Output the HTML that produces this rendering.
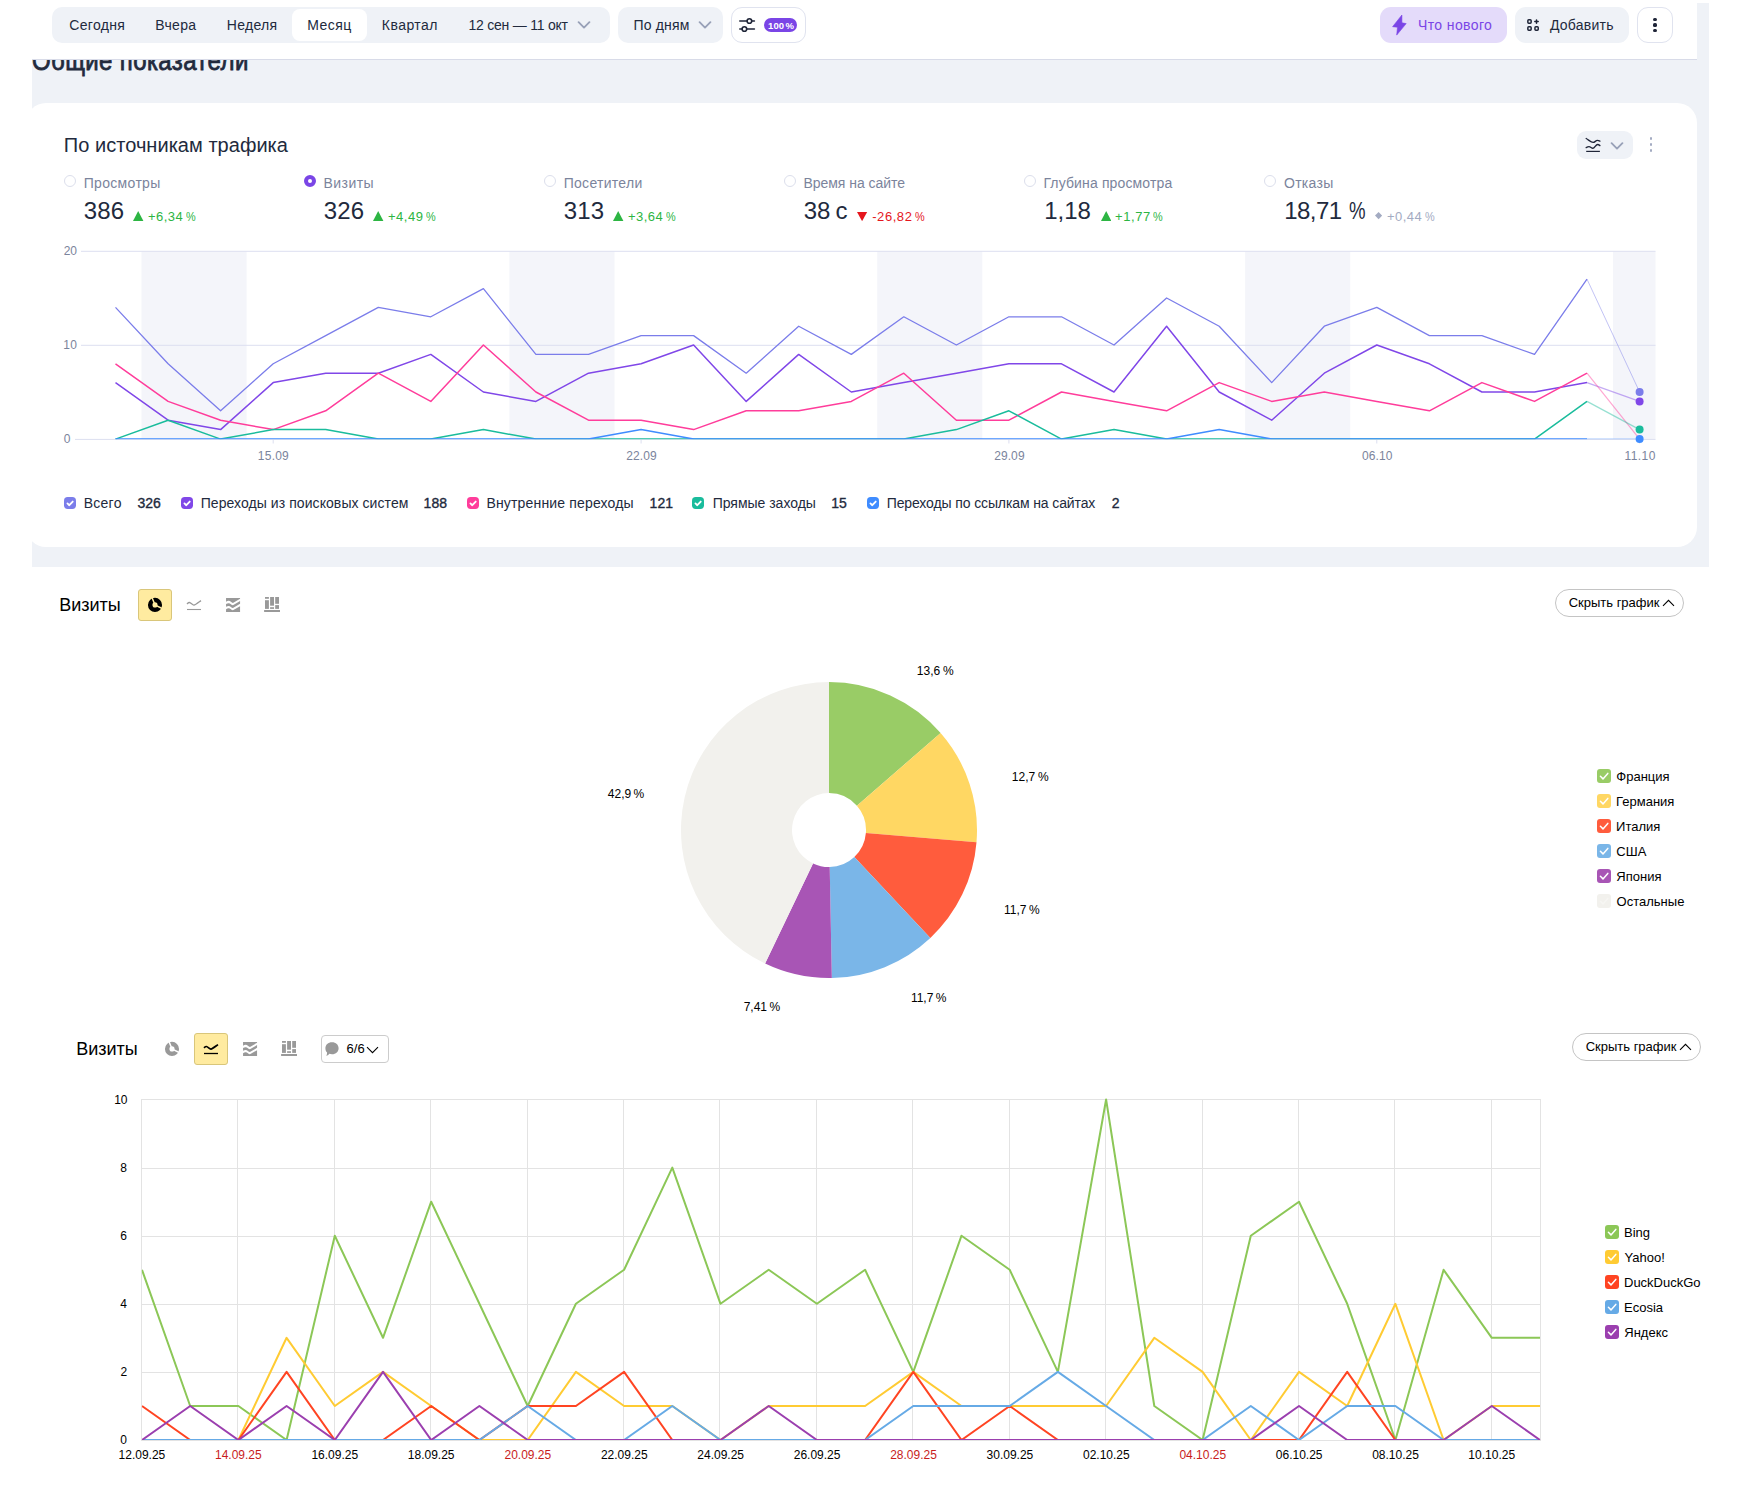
<!DOCTYPE html>
<html lang="ru"><head><meta charset="utf-8"><title>Метрика</title>
<style>
html,body{margin:0;padding:0;background:#fff}
body{position:relative;width:1739px;height:1488px;overflow:hidden;font-family:"Liberation Sans", sans-serif;}
span{display:block;position:absolute;line-height:1;white-space:pre}
</style></head>
<body>
<div style="position:absolute;left:32px;top:3px;width:1677px;height:564px;background:#eff2f7;overflow:hidden"><div style="position:absolute;left:-6px;top:100px;width:1671px;height:444px;background:#fff;border-radius:20px"></div></div>
<span style="left:31.95px;top:50.38px;font-size:24px;color:#222a3d;letter-spacing:0.387px;-webkit-text-stroke:0.7px #222a3d;transform-origin:0 20.3px;transform:scaleY(1.16);">Общие показатели</span>
<div style="position:absolute;left:0;top:0;width:1697px;height:60px;background:#fff"></div><div style="position:absolute;left:32px;top:59px;width:1665px;height:1px;background:#d8dbe8"></div>
<div style="position:absolute;left:52px;top:7px;width:558px;height:36px;background:#eff2f7;border-radius:10px"></div>
<div style="position:absolute;left:292px;top:9px;width:75px;height:32px;background:#fff;border-radius:8px"></div>
<span style="left:69.25px;top:18.15px;font-size:14px;color:#222a3d;letter-spacing:0.333px;">Сегодня</span>
<span style="left:155.35px;top:18.15px;font-size:14px;color:#222a3d;letter-spacing:0.287px;">Вчера</span>
<span style="left:226.75px;top:18.15px;font-size:14px;color:#222a3d;letter-spacing:0.300px;">Неделя</span>
<span style="left:307.35px;top:18.15px;font-size:14px;color:#222a3d;letter-spacing:0.412px;">Месяц</span>
<span style="left:381.75px;top:18.15px;font-size:14px;color:#222a3d;letter-spacing:0.475px;">Квартал</span>
<span style="left:468.40px;top:18.15px;font-size:14px;color:#222a3d;letter-spacing:-0.221px;">12 сен — 11 окт</span>
<svg style="position:absolute;left:577.0px;top:21.3px" width="14" height="8" viewBox="0 0 14 8"><path d="M1.6 1.2 L7 6.6 L12.4 1.2" fill="none" stroke="#98a1b8" stroke-width="1.85" stroke-linecap="round" stroke-linejoin="round"/></svg>
<div style="position:absolute;left:618px;top:7px;width:104.5px;height:36px;background:#eff2f7;border-radius:10px"></div>
<span style="left:633.50px;top:18.15px;font-size:14px;color:#222a3d;letter-spacing:0.167px;">По дням</span>
<svg style="position:absolute;left:697.9px;top:21.3px" width="14" height="8" viewBox="0 0 14 8"><path d="M1.6 1.2 L7 6.6 L12.4 1.2" fill="none" stroke="#98a1b8" stroke-width="1.85" stroke-linecap="round" stroke-linejoin="round"/></svg>
<div style="position:absolute;left:731px;top:7px;width:74.5px;height:36px;box-sizing:border-box;background:#fff;border:1px solid #e0e3ef;border-radius:11px"></div>
<svg style="position:absolute;left:737px;top:15px" width="20" height="20" viewBox="0 0 20 20"><g fill="none" stroke="#1f2538" stroke-width="1.6" stroke-linecap="round"><path d="M2.8 6 H9.8 M15 6 H17.4 M2.8 14 H5 M10 14 H17.4"/><circle cx="12.4" cy="6" r="2.3"/><circle cx="7.4" cy="14" r="2.3"/></g></svg>
<div style="position:absolute;left:764px;top:18px;width:33px;height:14px;background:#7a45e6;border-radius:7px"></div>
<span style="left:768.00px;top:20.66px;font-size:9.5px;color:#fff;font-weight:700;letter-spacing:0.095px;word-spacing:-1.330px;">100 %</span>
<div style="position:absolute;left:1380px;top:7px;width:127px;height:36px;background:#e4dbfa;border-radius:11px"></div>
<svg style="position:absolute;left:1390px;top:13px" width="20" height="24" viewBox="0 0 20 24"><path d="M11.9 2 L2.6 13.7 L7.5 14.2 L6.7 22.1 L16.2 10.6 L11.9 9.8 Z" fill="#7a45e6" stroke="#7a45e6" stroke-width="0.6" stroke-linejoin="round"/></svg>
<span style="left:1418.00px;top:18.15px;font-size:14px;color:#7a45e6;letter-spacing:0.383px;">Что нового</span>
<div style="position:absolute;left:1515px;top:7px;width:114px;height:36px;background:#eff2f7;border-radius:11px"></div>
<svg style="position:absolute;left:1525px;top:17px" width="16" height="16" viewBox="0 0 16 16"><g fill="none" stroke="#1f2538" stroke-width="1.5" stroke-linejoin="round" stroke-linecap="round"><rect x="2.85" y="2.75" width="3.3" height="3.4" rx="0.9"/><rect x="2.85" y="9.75" width="3.3" height="3.4" rx="0.9"/><rect x="9.95" y="9.75" width="3.3" height="3.4" rx="0.9"/><path d="M11.5 2.9 V6.3 M9.8 4.6 H13.2"/></g></svg>
<span style="left:1549.90px;top:18.15px;font-size:14px;color:#222a3d;letter-spacing:0.250px;">Добавить</span>
<div style="position:absolute;left:1637px;top:7px;width:36px;height:36px;box-sizing:border-box;background:#fff;border:1px solid #e0e3ef;border-radius:11px"></div>
<div style="position:absolute;left:1653.4px;top:17.9px;width:3.2px;height:3.2px;border-radius:50%;background:#1f2538"></div>
<div style="position:absolute;left:1653.4px;top:23.4px;width:3.2px;height:3.2px;border-radius:50%;background:#1f2538"></div>
<div style="position:absolute;left:1653.4px;top:28.9px;width:3.2px;height:3.2px;border-radius:50%;background:#1f2538"></div>
<span style="left:63.80px;top:134.97px;font-size:20px;color:#222a3d;letter-spacing:0.035px;">По источникам трафика</span>
<div style="position:absolute;left:1577px;top:131px;width:56px;height:28px;background:#eff2f7;border-radius:9px"></div>
<svg style="position:absolute;left:1584px;top:137px" width="18" height="18" viewBox="0 0 18 18"><g fill="none" stroke="#1f2538" stroke-width="1.4" stroke-linecap="round" stroke-linejoin="round"><path d="M2.2 1.5 C4.5 2.8 7 5.4 9.1 5.4 C10.8 5.4 11.8 3.4 13.3 3.4 C14.3 3.4 15.1 3.7 15.9 4.1"/><path d="M2.2 10.6 C3.2 10 4 9.6 5 9.6 C6.5 9.6 7.5 11.3 8.8 11.3 C10.6 11.3 11.8 7.5 13.6 7.5 C14.5 7.5 15.2 8 15.9 8.6"/><path d="M2.2 14.4 H15.9" stroke-width="1.2" stroke-linecap="butt"/></g></svg>
<svg style="position:absolute;left:1609.9px;top:141.7px" width="14" height="8" viewBox="0 0 14 8"><path d="M1.6 1.2 L7 6.6 L12.4 1.2" fill="none" stroke="#98a1b8" stroke-width="1.85" stroke-linecap="round" stroke-linejoin="round"/></svg>
<div style="position:absolute;left:1649.7px;top:137.4px;width:2.8px;height:2.8px;border-radius:50%;background:#a3abc2"></div>
<div style="position:absolute;left:1649.7px;top:143.4px;width:2.8px;height:2.8px;border-radius:50%;background:#a3abc2"></div>
<div style="position:absolute;left:1649.7px;top:149.4px;width:2.8px;height:2.8px;border-radius:50%;background:#a3abc2"></div>
<div style="position:absolute;left:64px;top:175px;width:12px;height:12px;box-sizing:border-box;border-radius:50%;border:1px solid #dcdfec;background:#fff"></div>
<span style="left:83.70px;top:176.15px;font-size:14px;color:#7b849c;letter-spacing:0.325px;">Просмотры</span>
<span style="left:83.70px;top:198.68px;font-size:24px;color:#222a3d;letter-spacing:0.150px;">386</span>
<svg style="position:absolute;left:133.40px;top:211.2px" width="10.4" height="10" viewBox="0 0 10.4 10"><path d="M5.2 0 L10.4 10 H0 Z" fill="#2db543"/></svg>
<span style="left:147.95px;top:210.00px;font-size:13px;color:#2db543;letter-spacing:0.462px;">+6,34</span>
<span style="left:185.88px;top:210.00px;font-size:13px;color:#2db543;transform-origin:0 0;transform:scaleX(0.838);">%</span>
<div style="position:absolute;left:304px;top:175px;width:12px;height:12px;box-sizing:border-box;border-radius:50%;border:4px solid #7a45e6;background:#fff"></div>
<span style="left:323.45px;top:176.15px;font-size:14px;color:#7b849c;letter-spacing:0.470px;">Визиты</span>
<span style="left:323.70px;top:198.68px;font-size:24px;color:#222a3d;letter-spacing:0.150px;">326</span>
<svg style="position:absolute;left:373.40px;top:211.2px" width="10.4" height="10" viewBox="0 0 10.4 10"><path d="M5.2 0 L10.4 10 H0 Z" fill="#2db543"/></svg>
<span style="left:387.95px;top:210.00px;font-size:13px;color:#2db543;letter-spacing:0.525px;">+4,49</span>
<span style="left:425.88px;top:210.00px;font-size:13px;color:#2db543;transform-origin:0 0;transform:scaleX(0.838);">%</span>
<div style="position:absolute;left:544px;top:175px;width:12px;height:12px;box-sizing:border-box;border-radius:50%;border:1px solid #dcdfec;background:#fff"></div>
<span style="left:563.70px;top:176.15px;font-size:14px;color:#7b849c;letter-spacing:0.289px;">Посетители</span>
<span style="left:563.70px;top:198.68px;font-size:24px;color:#222a3d;letter-spacing:0.150px;">313</span>
<svg style="position:absolute;left:613.40px;top:211.2px" width="10.4" height="10" viewBox="0 0 10.4 10"><path d="M5.2 0 L10.4 10 H0 Z" fill="#2db543"/></svg>
<span style="left:627.95px;top:210.00px;font-size:13px;color:#2db543;letter-spacing:0.462px;">+3,64</span>
<span style="left:665.88px;top:210.00px;font-size:13px;color:#2db543;transform-origin:0 0;transform:scaleX(0.838);">%</span>
<div style="position:absolute;left:784px;top:175px;width:12px;height:12px;box-sizing:border-box;border-radius:50%;border:1px solid #dcdfec;background:#fff"></div>
<span style="left:803.45px;top:176.15px;font-size:14px;color:#7b849c;letter-spacing:-0.035px;">Время на сайте</span>
<span style="left:803.70px;top:198.68px;font-size:24px;color:#222a3d;word-spacing:-1.450px;">38 с</span>
<svg style="position:absolute;left:857.40px;top:211.9px" width="10.2" height="9.2" viewBox="0 0 10.2 9.2"><path d="M0 0 H10.2 L5.1 9.2 Z" fill="#e5161d"/></svg>
<span style="left:872.20px;top:210.00px;font-size:13px;color:#e5161d;letter-spacing:0.570px;">-26,82</span>
<span style="left:914.88px;top:210.00px;font-size:13px;color:#e5161d;transform-origin:0 0;transform:scaleX(0.838);">%</span>
<div style="position:absolute;left:1024px;top:175px;width:12px;height:12px;box-sizing:border-box;border-radius:50%;border:1px solid #dcdfec;background:#fff"></div>
<span style="left:1043.45px;top:176.15px;font-size:14px;color:#7b849c;letter-spacing:0.134px;">Глубина просмотра</span>
<span style="left:1044.15px;top:198.68px;font-size:24px;color:#222a3d;">1,18</span>
<svg style="position:absolute;left:1100.90px;top:211.2px" width="10.4" height="10" viewBox="0 0 10.4 10"><path d="M5.2 0 L10.4 10 H0 Z" fill="#2db543"/></svg>
<span style="left:1115.05px;top:210.00px;font-size:13px;color:#2db543;letter-spacing:0.575px;">+1,77</span>
<span style="left:1153.18px;top:210.00px;font-size:13px;color:#2db543;transform-origin:0 0;transform:scaleX(0.838);">%</span>
<div style="position:absolute;left:1264px;top:175px;width:12px;height:12px;box-sizing:border-box;border-radius:50%;border:1px solid #dcdfec;background:#fff"></div>
<span style="left:1283.95px;top:176.15px;font-size:14px;color:#7b849c;letter-spacing:0.310px;">Отказы</span>
<span style="left:1284.15px;top:198.68px;font-size:24px;color:#222a3d;letter-spacing:-0.500px;">18,71</span>
<span style="left:1348.52px;top:198.68px;font-size:24px;color:#222a3d;transform-origin:0 0;transform:scaleX(0.775);">%</span>
<svg style="position:absolute;left:1375.10px;top:212.4px" width="7.2" height="7.2" viewBox="0 0 7.2 7.2"><path d="M3.6 0 L7.2 3.6 L3.6 7.2 L0 3.6 Z" fill="#a3abc2"/></svg>
<span style="left:1387.05px;top:210.00px;font-size:13px;color:#a3abc2;letter-spacing:0.462px;">+0,44</span>
<span style="left:1424.98px;top:210.00px;font-size:13px;color:#a3abc2;transform-origin:0 0;transform:scaleX(0.838);">%</span>
<svg style="position:absolute;left:0;top:0" width="1739" height="600" viewBox="0 0 1739 600"><rect x="141.5" y="251.3" width="105.1" height="188.1" fill="#f4f5fa"/><rect x="509.4" y="251.3" width="105.1" height="188.1" fill="#f4f5fa"/><rect x="877.2" y="251.3" width="105.1" height="188.1" fill="#f4f5fa"/><rect x="1245.1" y="251.3" width="105.1" height="188.1" fill="#f4f5fa"/><rect x="1613.0" y="251.3" width="42.5" height="188.1" fill="#f4f5fa"/><line x1="81" x2="1655.5" y1="251.3" y2="251.3" stroke="#dcdff0" stroke-width="1"/><line x1="81" x2="1655.5" y1="345.3" y2="345.3" stroke="#dcdff0" stroke-width="1"/><line x1="75" x2="1655.5" y1="439.4" y2="439.4" stroke="#dcdff0" stroke-width="1"/><line x1="273.2" x2="273.2" y1="439.4" y2="443.5" stroke="#dcdff0" stroke-width="1"/><line x1="641.1" x2="641.1" y1="439.4" y2="443.5" stroke="#dcdff0" stroke-width="1"/><line x1="1008.9" x2="1008.9" y1="439.4" y2="443.5" stroke="#dcdff0" stroke-width="1"/><line x1="1376.8" x2="1376.8" y1="439.4" y2="443.5" stroke="#dcdff0" stroke-width="1"/><line x1="1639.6" x2="1639.6" y1="439.4" y2="443.5" stroke="#dcdff0" stroke-width="1"/><clipPath id="tc"><rect x="0" y="240" width="1739" height="199.35"/></clipPath><g clip-path="url(#tc)"><polyline points="115.5,307.4 168.1,363.8 220.6,410.8 273.2,363.8 325.7,335.6 378.3,307.4 430.8,316.8 483.4,288.6 535.9,354.4 588.5,354.4 641.1,335.6 693.6,335.6 746.2,373.2 798.7,326.2 851.3,354.4 903.8,316.8 956.4,345.0 1008.9,316.8 1061.5,316.8 1114.0,345.0 1166.6,298.0 1219.2,326.2 1271.7,382.6 1324.3,326.2 1376.8,307.4 1429.4,335.6 1481.9,335.6 1534.5,354.4 1587.0,279.2" fill="none" stroke="#7b7dea" stroke-width="1.3" stroke-linejoin="round"/><line x1="1587.0" y1="279.2" x2="1639.6" y2="392.0" stroke="#7b7dea" stroke-width="1.00" opacity="0.45"/><polyline points="115.5,382.6 168.1,420.2 220.6,429.6 273.2,382.6 325.7,373.2 378.3,373.2 430.8,354.4 483.4,392.0 535.9,401.4 588.5,373.2 641.1,363.8 693.6,345.0 746.2,401.4 798.7,354.4 851.3,392.0 903.8,382.6 956.4,373.2 1008.9,363.8 1061.5,363.8 1114.0,392.0 1166.6,326.2 1219.2,392.0 1271.7,420.2 1324.3,373.2 1376.8,345.0 1429.4,363.8 1481.9,392.0 1534.5,392.0 1587.0,382.6" fill="none" stroke="#8047e8" stroke-width="1.5" stroke-linejoin="round"/><line x1="1587.0" y1="382.6" x2="1639.6" y2="401.4" stroke="#8047e8" stroke-width="1.20" opacity="0.45"/><polyline points="115.5,363.8 168.1,401.4 220.6,420.2 273.2,429.6 325.7,410.8 378.3,373.2 430.8,401.4 483.4,345.0 535.9,392.0 588.5,420.2 641.1,420.2 693.6,429.6 746.2,410.8 798.7,410.8 851.3,401.4 903.8,373.2 956.4,420.2 1008.9,420.2 1061.5,392.0 1114.0,401.4 1166.6,410.8 1219.2,382.6 1271.7,401.4 1324.3,392.0 1376.8,401.4 1429.4,410.8 1481.9,382.6 1534.5,401.4 1587.0,373.2" fill="none" stroke="#ff3d9b" stroke-width="1.5" stroke-linejoin="round"/><line x1="1587.0" y1="373.2" x2="1639.6" y2="439.1" stroke="#ff3d9b" stroke-width="1.20" opacity="0.45"/><polyline points="115.5,439.1 168.1,420.2 220.6,439.1 273.2,429.6 325.7,429.6 378.3,439.1 430.8,439.1 483.4,429.6 535.9,439.1 588.5,439.1 641.1,439.1 693.6,439.1 746.2,439.1 798.7,439.1 851.3,439.1 903.8,439.1 956.4,429.6 1008.9,410.8 1061.5,439.1 1114.0,429.6 1166.6,439.1 1219.2,439.1 1271.7,439.1 1324.3,439.1 1376.8,439.1 1429.4,439.1 1481.9,439.1 1534.5,439.1 1587.0,401.4" fill="none" stroke="#1abc9c" stroke-width="1.5" stroke-linejoin="round"/><line x1="1587.0" y1="401.4" x2="1639.6" y2="429.6" stroke="#1abc9c" stroke-width="1.20" opacity="0.45"/><polyline points="115.5,439.1 168.1,439.1 220.6,439.1 273.2,439.1 325.7,439.1 378.3,439.1 430.8,439.1 483.4,439.1 535.9,439.1 588.5,439.1 641.1,429.6 693.6,439.1 746.2,439.1 798.7,439.1 851.3,439.1 903.8,439.1 956.4,439.1 1008.9,439.1 1061.5,439.1 1114.0,439.1 1166.6,439.1 1219.2,429.6 1271.7,439.1 1324.3,439.1 1376.8,439.1 1429.4,439.1 1481.9,439.1 1534.5,439.1 1587.0,439.1" fill="none" stroke="#3f8cff" stroke-width="1.5" stroke-linejoin="round"/><line x1="1587.0" y1="439.1" x2="1639.6" y2="439.1" stroke="#3f8cff" stroke-width="1.20" opacity="0.45"/></g><circle cx="1639.6" cy="392.0" r="4" fill="#7b7dea"/><circle cx="1639.6" cy="401.4" r="4" fill="#8047e8"/><circle cx="1639.6" cy="429.6" r="4" fill="#1abc9c"/><circle cx="1639.6" cy="439.1" r="4" fill="#3f8cff"/></svg>
<span style="left:63.80px;top:245.34px;font-size:12px;color:#7b849c;letter-spacing:-0.200px;">20</span>
<span style="left:63.30px;top:339.34px;font-size:12px;color:#7b849c;letter-spacing:0.300px;">10</span>
<span style="left:63.80px;top:433.44px;font-size:12px;color:#7b849c;">0</span>
<span style="left:257.87px;top:449.54px;font-size:12px;color:#7b849c;letter-spacing:0.225px;">15.09</span>
<span style="left:626.25px;top:449.54px;font-size:12px;color:#7b849c;letter-spacing:0.100px;">22.09</span>
<span style="left:994.14px;top:449.54px;font-size:12px;color:#7b849c;letter-spacing:0.100px;">29.09</span>
<span style="left:1362.02px;top:449.54px;font-size:12px;color:#7b849c;letter-spacing:0.100px;">06.10</span>
<span style="left:1624.40px;top:449.54px;font-size:12px;color:#7b849c;letter-spacing:0.463px;">11.10</span>
<svg style="position:absolute;left:64px;top:497.3px" width="12" height="12" viewBox="0 0 14 14"><rect width="14" height="14" rx="4.3" fill="#7b7dea"/><path d="M4 7.5 L6.2 9.6 L10.2 5.3" fill="none" stroke="#fff" stroke-width="2.1" stroke-linecap="round" stroke-linejoin="round" opacity="1"/></svg>
<span style="left:83.75px;top:495.85px;font-size:14px;color:#222a3d;letter-spacing:0.250px;">Всего</span>
<span style="left:137.40px;top:495.85px;font-size:14px;color:#222a3d;-webkit-text-stroke:0.35px #222a3d;">326</span>
<svg style="position:absolute;left:180.7px;top:497.3px" width="12" height="12" viewBox="0 0 14 14"><rect width="14" height="14" rx="4.3" fill="#8047e8"/><path d="M4 7.5 L6.2 9.6 L10.2 5.3" fill="none" stroke="#fff" stroke-width="2.1" stroke-linecap="round" stroke-linejoin="round" opacity="1"/></svg>
<span style="left:200.70px;top:495.85px;font-size:14px;color:#222a3d;letter-spacing:0.069px;">Переходы из поисковых систем</span>
<span style="left:423.60px;top:495.85px;font-size:14px;color:#222a3d;-webkit-text-stroke:0.35px #222a3d;">188</span>
<svg style="position:absolute;left:466.7px;top:497.3px" width="12" height="12" viewBox="0 0 14 14"><rect width="14" height="14" rx="4.3" fill="#ff3d9b"/><path d="M4 7.5 L6.2 9.6 L10.2 5.3" fill="none" stroke="#fff" stroke-width="2.1" stroke-linecap="round" stroke-linejoin="round" opacity="1"/></svg>
<span style="left:486.45px;top:495.85px;font-size:14px;color:#222a3d;letter-spacing:0.167px;">Внутренние переходы</span>
<span style="left:649.60px;top:495.85px;font-size:14px;color:#222a3d;-webkit-text-stroke:0.35px #222a3d;">121</span>
<svg style="position:absolute;left:692px;top:497.3px" width="12" height="12" viewBox="0 0 14 14"><rect width="14" height="14" rx="4.3" fill="#1abc9c"/><path d="M4 7.5 L6.2 9.6 L10.2 5.3" fill="none" stroke="#fff" stroke-width="2.1" stroke-linecap="round" stroke-linejoin="round" opacity="1"/></svg>
<span style="left:712.70px;top:495.85px;font-size:14px;color:#222a3d;letter-spacing:-0.017px;">Прямые заходы</span>
<span style="left:831.30px;top:495.85px;font-size:14px;color:#222a3d;-webkit-text-stroke:0.35px #222a3d;">15</span>
<svg style="position:absolute;left:866.7px;top:497.3px" width="12" height="12" viewBox="0 0 14 14"><rect width="14" height="14" rx="4.3" fill="#3f8cff"/><path d="M4 7.5 L6.2 9.6 L10.2 5.3" fill="none" stroke="#fff" stroke-width="2.1" stroke-linecap="round" stroke-linejoin="round" opacity="1"/></svg>
<span style="left:886.70px;top:495.85px;font-size:14px;color:#222a3d;letter-spacing:-0.114px;">Переходы по ссылкам на сайтах</span>
<span style="left:1111.80px;top:495.85px;font-size:14px;color:#222a3d;-webkit-text-stroke:0.35px #222a3d;">2</span>
<span style="left:59.20px;top:595.56px;font-size:18px;color:#000;">Визиты</span>
<div style="position:absolute;left:138.3px;top:589.1px;width:33.6px;height:31.7px;box-sizing:border-box;background:#ffeba0;border:1px solid #d9c67a;border-radius:3px"></div>
<svg style="position:absolute;left:147px;top:597px" width="16" height="16" viewBox="0 0 16 16"><circle cx="8" cy="7.9" r="4.8" fill="none" stroke="#000" stroke-width="4.5"/><g stroke="#ffeba0" stroke-width="1.5"><path d="M7.44 6.51 L5.00 0.48"/><path d="M9.34 8.58 L15.13 11.53"/></g></svg>
<svg style="position:absolute;left:186px;top:597px" width="16" height="16" viewBox="0 0 16 16"><g fill="none" stroke="#999"><path d="M1 6.9 C2 6 2.6 5.4 3.4 5.5 C4.8 5.7 6.4 7.9 7.9 8.2 C9.4 7.9 13 5 15 3.6" stroke-width="1.3"/><path d="M1 12.5 H15" stroke-width="1.1"/></g></svg>
<svg style="position:absolute;left:225px;top:597px" width="16" height="16" viewBox="0 0 16 16"><g fill="#999"><path d="M1.04 1.02 H15.07 V1.8 L7.94 5.94 C6.6 5.69 5.2 3.99 3.8 3.87 C3 3.79 2 4.09 1.04 4.79 Z"/><path d="M1.04 7.09 C2 6.39 3 6.09 3.8 6.17 C5.2 6.29 6.6 7.99 7.94 8.24 L15.07 4.10 V6.86 L7.94 11.00 C6.6 10.75 5.2 9.05 3.8 8.93 C3 8.85 2 9.15 1.04 9.85 Z"/><path d="M1.04 12.15 C2 11.45 3 11.15 3.8 11.23 C5.2 11.35 6.6 13.05 7.94 13.30 L15.07 9.16 V14.91 H1.04 Z"/></g></svg>
<svg style="position:absolute;left:264px;top:597px" width="16" height="16" viewBox="0 0 16 16"><g fill="#999"><rect x="1" y="0" width="3.9" height="1.8"/><rect x="1" y="3.2" width="3.9" height="8.7"/><rect x="6.1" y="0" width="3.9" height="8.7"/><rect x="6.1" y="10.2" width="3.9" height="1.7"/><rect x="11.2" y="0" width="3.8" height="6.8"/><rect x="11.2" y="8.1" width="3.8" height="3.8"/><rect x="0.1" y="13" width="15.9" height="2"/></g></svg>
<div style="position:absolute;left:1555px;top:589.3px;width:128.6px;height:27.5px;box-sizing:border-box;background:#fff;border:1px solid #c4c4c4;border-radius:14px"></div>
<span style="left:1568.65px;top:596.20px;font-size:13px;color:#000;">Скрыть график</span>
<svg style="position:absolute;left:1661.9px;top:599px" width="13" height="8" viewBox="0 0 13 8"><path d="M1 6.8 L6.5 1.3 L12 6.8" fill="none" stroke="#000" stroke-width="1.1"/></svg>
<svg style="position:absolute;left:0;top:0" width="1739" height="1488" viewBox="0 0 1739 1488"><path d="M829.00,682.10 A148.0,148.0 0 0 1 940.62,732.92 L856.91,805.80 A37.0,37.0 0 0 0 829.00,793.10 Z" fill="#99cc66"/><path d="M940.62,732.92 A148.0,148.0 0 0 1 976.51,842.15 L865.88,833.11 A37.0,37.0 0 0 0 856.91,805.80 Z" fill="#ffd763"/><path d="M976.51,842.15 A148.0,148.0 0 0 1 930.34,937.96 L854.33,857.07 A37.0,37.0 0 0 0 865.88,833.11 Z" fill="#ff5c3d"/><path d="M930.34,937.96 A148.0,148.0 0 0 1 831.84,978.07 L829.71,867.09 A37.0,37.0 0 0 0 854.33,857.07 Z" fill="#7ab6e8"/><path d="M831.84,978.07 A148.0,148.0 0 0 1 765.11,963.60 L813.03,863.47 A37.0,37.0 0 0 0 829.71,867.09 Z" fill="#a855b5"/><path d="M765.11,963.60 A148.0,148.0 0 0 1 829.00,682.10 L829.00,793.10 A37.0,37.0 0 0 0 813.03,863.47 Z" fill="#f2f1ed"/></svg>
<span style="left:916.80px;top:664.94px;font-size:12px;color:#000;word-spacing:-0.600px;">13,6 %</span>
<span style="left:1011.80px;top:771.14px;font-size:12px;color:#000;word-spacing:-0.600px;">12,7 %</span>
<span style="left:1004.00px;top:904.34px;font-size:12px;color:#000;word-spacing:-0.800px;">11,7 %</span>
<span style="left:910.90px;top:992.24px;font-size:12px;color:#000;word-spacing:-0.900px;">11,7 %</span>
<span style="left:743.70px;top:1001.24px;font-size:12px;color:#000;word-spacing:-0.800px;">7,41 %</span>
<span style="left:607.85px;top:788.24px;font-size:12px;color:#000;word-spacing:-0.950px;">42,9 %</span>
<svg style="position:absolute;left:1597px;top:769px" width="14" height="14" viewBox="0 0 14 14"><rect width="14" height="14" rx="3" fill="#99cc66"/><path d="M3.4 7.3 L6 9.9 L10.8 4.4" fill="none" stroke="#fff" stroke-width="1.5" stroke-linecap="round" stroke-linejoin="round" opacity="1"/></svg>
<span style="left:1616.35px;top:769.80px;font-size:13px;color:#000;">Франция</span>
<svg style="position:absolute;left:1597px;top:794px" width="14" height="14" viewBox="0 0 14 14"><rect width="14" height="14" rx="3" fill="#ffd763"/><path d="M3.4 7.3 L6 9.9 L10.8 4.4" fill="none" stroke="#fff" stroke-width="1.5" stroke-linecap="round" stroke-linejoin="round" opacity="1"/></svg>
<span style="left:1616.10px;top:794.80px;font-size:13px;color:#000;">Германия</span>
<svg style="position:absolute;left:1597px;top:819px" width="14" height="14" viewBox="0 0 14 14"><rect width="14" height="14" rx="3" fill="#ff5c3d"/><path d="M3.4 7.3 L6 9.9 L10.8 4.4" fill="none" stroke="#fff" stroke-width="1.5" stroke-linecap="round" stroke-linejoin="round" opacity="1"/></svg>
<span style="left:1616.10px;top:819.80px;font-size:13px;color:#000;">Италия</span>
<svg style="position:absolute;left:1597px;top:844px" width="14" height="14" viewBox="0 0 14 14"><rect width="14" height="14" rx="3" fill="#7ab6e8"/><path d="M3.4 7.3 L6 9.9 L10.8 4.4" fill="none" stroke="#fff" stroke-width="1.5" stroke-linecap="round" stroke-linejoin="round" opacity="1"/></svg>
<span style="left:1616.35px;top:844.80px;font-size:13px;color:#000;">США</span>
<svg style="position:absolute;left:1597px;top:869px" width="14" height="14" viewBox="0 0 14 14"><rect width="14" height="14" rx="3" fill="#a855b5"/><path d="M3.4 7.3 L6 9.9 L10.8 4.4" fill="none" stroke="#fff" stroke-width="1.5" stroke-linecap="round" stroke-linejoin="round" opacity="1"/></svg>
<span style="left:1616.35px;top:869.80px;font-size:13px;color:#000;">Япония</span>
<svg style="position:absolute;left:1597px;top:894px" width="14" height="14" viewBox="0 0 14 14"><rect width="14" height="14" rx="3" fill="#f2f1ed"/><path d="M3.4 7.3 L6 9.9 L10.8 4.4" fill="none" stroke="#fff" stroke-width="1.5" stroke-linecap="round" stroke-linejoin="round" opacity="0.35"/></svg>
<span style="left:1616.60px;top:894.80px;font-size:13px;color:#000;">Остальные</span>
<span style="left:76.20px;top:1039.56px;font-size:18px;color:#000;">Визиты</span>
<div style="position:absolute;left:194.3px;top:1033.1px;width:33.6px;height:31.7px;box-sizing:border-box;background:#ffeba0;border:1px solid #d9c67a;border-radius:3px"></div>
<svg style="position:absolute;left:164px;top:1041px" width="16" height="16" viewBox="0 0 16 16"><circle cx="8" cy="7.9" r="4.8" fill="none" stroke="#999" stroke-width="4.5"/><g stroke="#fff" stroke-width="1.5"><path d="M7.44 6.51 L5.00 0.48"/><path d="M9.34 8.58 L15.13 11.53"/></g></svg>
<svg style="position:absolute;left:203px;top:1041px" width="16" height="16" viewBox="0 0 16 16"><g fill="none" stroke="#000"><path d="M1 6.9 C2 6 2.6 5.4 3.4 5.5 C4.8 5.7 6.4 7.9 7.9 8.2 C9.4 7.9 13 5 15 3.6" stroke-width="1.7"/><path d="M1 12.5 H15" stroke-width="1.3"/></g></svg>
<svg style="position:absolute;left:242px;top:1041px" width="16" height="16" viewBox="0 0 16 16"><g fill="#999"><path d="M1.04 1.02 H15.07 V1.8 L7.94 5.94 C6.6 5.69 5.2 3.99 3.8 3.87 C3 3.79 2 4.09 1.04 4.79 Z"/><path d="M1.04 7.09 C2 6.39 3 6.09 3.8 6.17 C5.2 6.29 6.6 7.99 7.94 8.24 L15.07 4.10 V6.86 L7.94 11.00 C6.6 10.75 5.2 9.05 3.8 8.93 C3 8.85 2 9.15 1.04 9.85 Z"/><path d="M1.04 12.15 C2 11.45 3 11.15 3.8 11.23 C5.2 11.35 6.6 13.05 7.94 13.30 L15.07 9.16 V14.91 H1.04 Z"/></g></svg>
<svg style="position:absolute;left:281px;top:1041px" width="16" height="16" viewBox="0 0 16 16"><g fill="#999"><rect x="1" y="0" width="3.9" height="1.8"/><rect x="1" y="3.2" width="3.9" height="8.7"/><rect x="6.1" y="0" width="3.9" height="8.7"/><rect x="6.1" y="10.2" width="3.9" height="1.7"/><rect x="11.2" y="0" width="3.8" height="6.8"/><rect x="11.2" y="8.1" width="3.8" height="3.8"/><rect x="0.1" y="13" width="15.9" height="2"/></g></svg>
<div style="position:absolute;left:1572px;top:1033.3px;width:128.6px;height:27.5px;box-sizing:border-box;background:#fff;border:1px solid #c4c4c4;border-radius:14px"></div>
<span style="left:1585.65px;top:1040.20px;font-size:13px;color:#000;">Скрыть график</span>
<svg style="position:absolute;left:1678.9px;top:1043px" width="13" height="8" viewBox="0 0 13 8"><path d="M1 6.8 L6.5 1.3 L12 6.8" fill="none" stroke="#000" stroke-width="1.1"/></svg>
<div style="position:absolute;left:321px;top:1035.2px;width:67.5px;height:27.5px;box-sizing:border-box;background:#fff;border:1px solid #ccc;border-radius:4px"></div>
<svg style="position:absolute;left:324.1px;top:1041px" width="16" height="16" viewBox="0 0 16 16"><path d="M8 1.2 C11.9 1.2 14.6 3.8 14.6 7.2 C14.6 10.6 11.9 13.2 8 13.2 C7 13.2 6.1 13 5.3 12.7 C4.6 13.8 3.4 14.6 2.2 14.8 C2.9 13.9 3.2 12.8 3.1 11.6 C2 10.5 1.4 8.9 1.4 7.2 C1.4 3.8 4.1 1.2 8 1.2 Z" fill="#999"/></svg>
<span style="left:346.55px;top:1042.20px;font-size:13px;color:#000;">6/6</span>
<svg style="position:absolute;left:366.3px;top:1045.5px" width="13" height="8" viewBox="0 0 13 8"><path d="M1 1.2 L6.5 6.7 L12 1.2" fill="none" stroke="#000" stroke-width="1.1"/></svg>
<svg style="position:absolute;left:0;top:0" width="1739" height="1488" viewBox="0 0 1739 1488"><line x1="141" x2="1541" y1="1099.5" y2="1099.5" stroke="#e3e3e3" stroke-width="1"/><line x1="141" x2="1541" y1="1168.5" y2="1168.5" stroke="#e3e3e3" stroke-width="1"/><line x1="141" x2="1541" y1="1236.5" y2="1236.5" stroke="#e3e3e3" stroke-width="1"/><line x1="141" x2="1541" y1="1304.5" y2="1304.5" stroke="#e3e3e3" stroke-width="1"/><line x1="141" x2="1541" y1="1372.5" y2="1372.5" stroke="#e3e3e3" stroke-width="1"/><line x1="141" x2="1541" y1="1440.5" y2="1440.5" stroke="#e3e3e3" stroke-width="1"/><line x1="141.5" x2="141.5" y1="1099" y2="1441" stroke="#e3e3e3" stroke-width="1"/><line x1="237.5" x2="237.5" y1="1099" y2="1441" stroke="#e3e3e3" stroke-width="1"/><line x1="334.5" x2="334.5" y1="1099" y2="1441" stroke="#e3e3e3" stroke-width="1"/><line x1="430.5" x2="430.5" y1="1099" y2="1441" stroke="#e3e3e3" stroke-width="1"/><line x1="527.5" x2="527.5" y1="1099" y2="1441" stroke="#e3e3e3" stroke-width="1"/><line x1="623.5" x2="623.5" y1="1099" y2="1441" stroke="#e3e3e3" stroke-width="1"/><line x1="719.5" x2="719.5" y1="1099" y2="1441" stroke="#e3e3e3" stroke-width="1"/><line x1="816.5" x2="816.5" y1="1099" y2="1441" stroke="#e3e3e3" stroke-width="1"/><line x1="912.5" x2="912.5" y1="1099" y2="1441" stroke="#e3e3e3" stroke-width="1"/><line x1="1009.5" x2="1009.5" y1="1099" y2="1441" stroke="#e3e3e3" stroke-width="1"/><line x1="1105.5" x2="1105.5" y1="1099" y2="1441" stroke="#e3e3e3" stroke-width="1"/><line x1="1202.5" x2="1202.5" y1="1099" y2="1441" stroke="#e3e3e3" stroke-width="1"/><line x1="1298.5" x2="1298.5" y1="1099" y2="1441" stroke="#e3e3e3" stroke-width="1"/><line x1="1394.5" x2="1394.5" y1="1099" y2="1441" stroke="#e3e3e3" stroke-width="1"/><line x1="1491.5" x2="1491.5" y1="1099" y2="1441" stroke="#e3e3e3" stroke-width="1"/><line x1="1540.5" x2="1540.5" y1="1099" y2="1441" stroke="#e3e3e3" stroke-width="1"/><clipPath id="lc"><rect x="141.8" y="1098" width="1398.6" height="342.1"/></clipPath><g clip-path="url(#lc)"><polyline points="142.0,1269.8 190.2,1406.0 238.4,1406.0 286.6,1440.0 334.8,1235.7 383.0,1337.8 431.2,1201.7 479.4,1303.8 527.7,1406.0 575.9,1303.8 624.1,1269.8 672.3,1167.6 720.5,1303.8 768.7,1269.8 816.9,1303.8 865.1,1269.8 913.3,1371.9 961.5,1235.7 1009.7,1269.8 1057.9,1371.9 1106.1,1099.5 1154.3,1406.0 1202.6,1440.0 1250.8,1235.7 1299.0,1201.7 1347.2,1303.8 1395.4,1440.0 1443.6,1269.8 1491.8,1337.8 1540.0,1337.8" fill="none" stroke="#8cc757" stroke-width="2" stroke-linejoin="round"/><polyline points="142.0,1440.0 190.2,1440.0 238.4,1440.0 286.6,1337.8 334.8,1406.0 383.0,1371.9 431.2,1406.0 479.4,1440.0 527.7,1440.0 575.9,1371.9 624.1,1406.0 672.3,1406.0 720.5,1440.0 768.7,1406.0 816.9,1406.0 865.1,1406.0 913.3,1371.9 961.5,1406.0 1009.7,1406.0 1057.9,1406.0 1106.1,1406.0 1154.3,1337.8 1202.6,1371.9 1250.8,1440.0 1299.0,1371.9 1347.2,1406.0 1395.4,1303.8 1443.6,1440.0 1491.8,1406.0 1540.0,1406.0" fill="none" stroke="#ffcb33" stroke-width="2" stroke-linejoin="round"/><polyline points="142.0,1406.0 190.2,1440.0 238.4,1440.0 286.6,1371.9 334.8,1440.0 383.0,1440.0 431.2,1406.0 479.4,1440.0 527.7,1406.0 575.9,1406.0 624.1,1371.9 672.3,1440.0 720.5,1440.0 768.7,1440.0 816.9,1440.0 865.1,1440.0 913.3,1371.9 961.5,1440.0 1009.7,1406.0 1057.9,1440.0 1106.1,1440.0 1154.3,1440.0 1202.6,1440.0 1250.8,1440.0 1299.0,1440.0 1347.2,1371.9 1395.4,1440.0 1443.6,1440.0 1491.8,1440.0 1540.0,1440.0" fill="none" stroke="#ff4422" stroke-width="2" stroke-linejoin="round"/><polyline points="142.0,1440.0 190.2,1440.0 238.4,1440.0 286.6,1440.0 334.8,1440.0 383.0,1440.0 431.2,1440.0 479.4,1440.0 527.7,1406.0 575.9,1440.0 624.1,1440.0 672.3,1406.0 720.5,1440.0 768.7,1440.0 816.9,1440.0 865.1,1440.0 913.3,1406.0 961.5,1406.0 1009.7,1406.0 1057.9,1371.9 1106.1,1406.0 1154.3,1440.0 1202.6,1440.0 1250.8,1406.0 1299.0,1440.0 1347.2,1406.0 1395.4,1406.0 1443.6,1440.0 1491.8,1440.0 1540.0,1440.0" fill="none" stroke="#66aae6" stroke-width="2" stroke-linejoin="round"/><polyline points="142.0,1440.0 190.2,1406.0 238.4,1440.0 286.6,1406.0 334.8,1440.0 383.0,1371.9 431.2,1440.0 479.4,1406.0 527.7,1440.0 575.9,1440.0 624.1,1440.0 672.3,1440.0 720.5,1440.0 768.7,1406.0 816.9,1440.0 865.1,1440.0 913.3,1440.0 961.5,1440.0 1009.7,1440.0 1057.9,1440.0 1106.1,1440.0 1154.3,1440.0 1202.6,1440.0 1250.8,1440.0 1299.0,1406.0 1347.2,1440.0 1395.4,1440.0 1443.6,1440.0 1491.8,1406.0 1540.0,1440.0" fill="none" stroke="#9b3faf" stroke-width="2" stroke-linejoin="round"/></g></svg>
<span style="left:120.15px;top:1433.64px;font-size:12px;color:#000;">0</span>
<span style="left:120.40px;top:1365.64px;font-size:12px;color:#000;">2</span>
<span style="left:120.15px;top:1297.64px;font-size:12px;color:#000;">4</span>
<span style="left:120.15px;top:1229.64px;font-size:12px;color:#000;">6</span>
<span style="left:120.15px;top:1161.64px;font-size:12px;color:#000;">8</span>
<span style="left:114.20px;top:1093.64px;font-size:12px;color:#000;">10</span>
<span style="left:118.57px;top:1448.54px;font-size:12px;color:#000;">12.09.25</span>
<span style="left:214.99px;top:1448.54px;font-size:12px;color:#c81c1c;">14.09.25</span>
<span style="left:311.40px;top:1448.54px;font-size:12px;color:#000;">16.09.25</span>
<span style="left:407.82px;top:1448.54px;font-size:12px;color:#000;">18.09.25</span>
<span style="left:504.48px;top:1448.54px;font-size:12px;color:#c81c1c;">20.09.25</span>
<span style="left:600.89px;top:1448.54px;font-size:12px;color:#000;">22.09.25</span>
<span style="left:697.31px;top:1448.54px;font-size:12px;color:#000;">24.09.25</span>
<span style="left:793.72px;top:1448.54px;font-size:12px;color:#000;">26.09.25</span>
<span style="left:890.14px;top:1448.54px;font-size:12px;color:#c81c1c;">28.09.25</span>
<span style="left:986.55px;top:1448.54px;font-size:12px;color:#000;">30.09.25</span>
<span style="left:1082.96px;top:1448.54px;font-size:12px;color:#000;">02.10.25</span>
<span style="left:1179.38px;top:1448.54px;font-size:12px;color:#c81c1c;">04.10.25</span>
<span style="left:1275.79px;top:1448.54px;font-size:12px;color:#000;">06.10.25</span>
<span style="left:1372.20px;top:1448.54px;font-size:12px;color:#000;">08.10.25</span>
<span style="left:1468.37px;top:1448.54px;font-size:12px;color:#000;">10.10.25</span>
<svg style="position:absolute;left:1605px;top:1225px" width="14" height="14" viewBox="0 0 14 14"><rect width="14" height="14" rx="3" fill="#8cc757"/><path d="M3.4 7.3 L6 9.9 L10.8 4.4" fill="none" stroke="#fff" stroke-width="1.5" stroke-linecap="round" stroke-linejoin="round" opacity="1"/></svg>
<span style="left:1624.00px;top:1225.80px;font-size:13px;color:#000;">Bing</span>
<svg style="position:absolute;left:1605px;top:1250px" width="14" height="14" viewBox="0 0 14 14"><rect width="14" height="14" rx="3" fill="#ffcb33"/><path d="M3.4 7.3 L6 9.9 L10.8 4.4" fill="none" stroke="#fff" stroke-width="1.5" stroke-linecap="round" stroke-linejoin="round" opacity="1"/></svg>
<span style="left:1624.50px;top:1250.80px;font-size:13px;color:#000;">Yahoo!</span>
<svg style="position:absolute;left:1605px;top:1275px" width="14" height="14" viewBox="0 0 14 14"><rect width="14" height="14" rx="3" fill="#ff4422"/><path d="M3.4 7.3 L6 9.9 L10.8 4.4" fill="none" stroke="#fff" stroke-width="1.5" stroke-linecap="round" stroke-linejoin="round" opacity="1"/></svg>
<span style="left:1624.00px;top:1275.80px;font-size:13px;color:#000;">DuckDuckGo</span>
<svg style="position:absolute;left:1605px;top:1300px" width="14" height="14" viewBox="0 0 14 14"><rect width="14" height="14" rx="3" fill="#66aae6"/><path d="M3.4 7.3 L6 9.9 L10.8 4.4" fill="none" stroke="#fff" stroke-width="1.5" stroke-linecap="round" stroke-linejoin="round" opacity="1"/></svg>
<span style="left:1624.00px;top:1300.80px;font-size:13px;color:#000;">Ecosia</span>
<svg style="position:absolute;left:1605px;top:1325px" width="14" height="14" viewBox="0 0 14 14"><rect width="14" height="14" rx="3" fill="#9b3faf"/><path d="M3.4 7.3 L6 9.9 L10.8 4.4" fill="none" stroke="#fff" stroke-width="1.5" stroke-linecap="round" stroke-linejoin="round" opacity="1"/></svg>
<span style="left:1624.25px;top:1325.80px;font-size:13px;color:#000;">Яндекс</span>
</body></html>
